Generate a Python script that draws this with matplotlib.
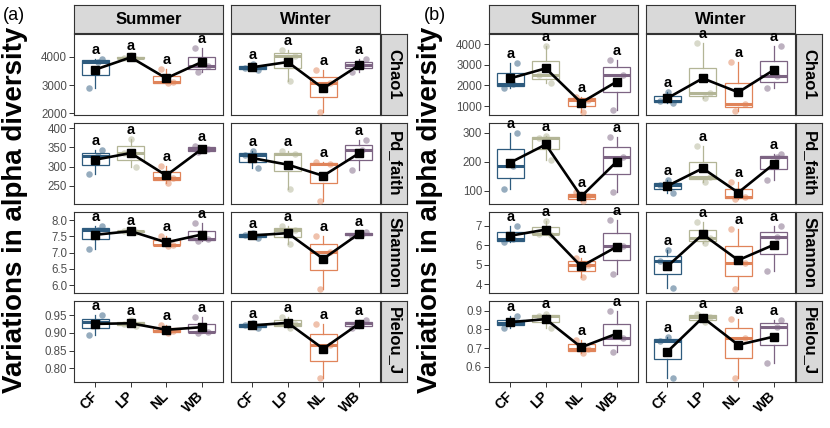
import numpy as np
import matplotlib
matplotlib.use("Agg")
import matplotlib.pyplot as plt

plt.rcParams['font.family'] = ['Liberation Sans', 'DejaVu Sans']

# three samples per site: CF, LP, NL, WB
sites = ["CF", "LP", "NL", "WB"]
seasons = ["Summer", "Winter"]
metrics = ["Chao1", "Pd_faith", "Shannon", "Pielou_J"]
site_colors = ["#2E5B7E", "#B3B596", "#E0845A", "#7D6483"]

# panel (a)
a_chao1_summer = [[2900, 3830, 3920], [3930, 3970, 4060], [3060, 3100, 3560], [3450, 3690, 4320]]
a_chao1_winter = [[3520, 3620, 3760], [3150, 4050, 4260], [2040, 3080, 3520], [3480, 3700, 3930]]
a_pd_summer = [[282, 328, 344], [299, 334, 372], [258, 271, 302], [337, 345, 354]]
a_pd_winter = [[296, 330, 340], [243, 332, 340], [210, 306, 312], [290, 344, 368]]
a_shannon_summer = [[7.11, 7.71, 7.83], [7.62, 7.66, 7.70], [7.20, 7.25, 7.50], [7.35, 7.42, 7.90]]
a_shannon_winter = [[7.46, 7.53, 7.60], [7.27, 7.70, 7.83], [5.89, 7.02, 7.52], [7.52, 7.56, 7.65]]
a_pielou_summer = [[0.895, 0.930, 0.951], [0.920, 0.926, 0.935], [0.899, 0.905, 0.922], [0.900, 0.903, 0.945]]
a_pielou_winter = [[0.913, 0.921, 0.929], [0.915, 0.925, 0.945], [0.773, 0.867, 0.925], [0.913, 0.928, 0.935]]

# panel (b)
b_chao1_summer = [[1860, 2078, 3100], [2100, 2496, 3900], [730, 1300, 1460], [807, 2509, 3238]]
b_chao1_winter = [[1170, 1260, 1700], [1370, 1620, 4050], [763, 1098, 3140], [1860, 2458, 3935]]
b_pd_summer = [[105, 185, 300], [207, 282, 288], [65, 80, 95], [97, 217, 286]]
b_pd_winter = [[93, 120, 135], [131, 146, 254], [72, 78, 130], [135, 215, 225]]
b_shannon_summer = [[6.14, 6.33, 7.00], [6.55, 6.60, 7.26], [4.38, 5.00, 5.35], [4.51, 5.95, 7.30]]
b_shannon_winter = [[3.80, 5.20, 5.73], [6.10, 6.38, 7.20], [3.74, 5.11, 6.84], [4.68, 6.40, 6.98]]
b_pielou_summer = [[0.810, 0.835, 0.870], [0.810, 0.870, 0.885], [0.672, 0.695, 0.745], [0.677, 0.754, 0.900]]
b_pielou_winter = [[0.540, 0.740, 0.760], [0.840, 0.865, 0.885], [0.540, 0.755, 0.855], [0.618, 0.815, 0.850]]

a_ticks = [[2000, 3000, 4000], [250, 300, 350, 400], [6.0, 6.5, 7.0, 7.5, 8.0], [0.80, 0.85, 0.90, 0.95]]
a_ticklabels = [["2000", "3000", "4000"], ["250", "300", "350", "400"],
                ["6.0", "6.5", "7.0", "7.5", "8.0"], ["0.80", "0.85", "0.90", "0.95"]]
b_ticks = [[1000, 2000, 3000, 4000], [100, 200, 300], [4, 5, 6, 7], [0.6, 0.7, 0.8, 0.9]]
b_ticklabels = [["1000", "2000", "3000", "4000"], ["100", "200", "300"],
                ["4", "5", "6", "7"], ["0.6", "0.7", "0.8", "0.9"]]

a_ylims = [(1930, 4820), (203, 413), (5.76, 8.25), (0.761, 0.99)]
b_ylims = [(563, 4500), (54, 333), (3.54, 7.71), (0.518, 0.952)]

data = {
    "a": [(a_chao1_summer, a_chao1_winter), (a_pd_summer, a_pd_winter),
          (a_shannon_summer, a_shannon_winter), (a_pielou_summer, a_pielou_winter)],
    "b": [(b_chao1_summer, b_chao1_winter), (b_pd_summer, b_pd_winter),
          (b_shannon_summer, b_shannon_winter), (b_pielou_summer, b_pielou_winter)],
}
ticks = {"a": (a_ticks, a_ticklabels, a_ylims), "b": (b_ticks, b_ticklabels, b_ylims)}

W, H = 830, 428
fig = plt.figure(figsize=(W / 100, H / 100), dpi=100)


def rect(x0, y0, x1, y1):
    return [x0 / W, 1 - y1 / H, (x1 - x0) / W, (y1 - y0) / H]


def strip(x0, y0, x1, y1, label, rot=0):
    s = fig.add_axes(rect(x0, y0, x1, y1))
    s.set_facecolor("#D9D9D9")
    s.set_xticks([])
    s.set_yticks([])
    for sp in s.spines.values():
        sp.set_color("#333333")
        sp.set_linewidth(0.8)
    s.text(0.5, 0.5, label, transform=s.transAxes, ha="center", va="center",
           rotation=rot, fontsize=12, fontweight="bold")


jitter = np.array([[-0.18, 0.08, 0.2], [0.15, -0.2, 0.02], [0.05, 0.2, -0.15], [-0.1, 0.18, -0.2]])
pos = np.arange(1, 5)

layout = {"a": 0, "b": 415}
rows = [(34, 115), (123, 204), (212, 293), (301, 382)]
cols = [(74, 223), (231, 380)]

for p, dx in layout.items():
    tk, tl, yl = ticks[p]
    for c, (cx0, cx1) in enumerate(cols):
        strip(cx0 + dx, 5, cx1 + dx, 33, seasons[c])
    for r, (ry0, ry1) in enumerate(rows):
        strip(381 + dx, ry0, 407 + dx, ry1, metrics[r], rot=-90)
        for c, (cx0, cx1) in enumerate(cols):
            ax = fig.add_axes(rect(cx0 + dx, ry0, cx1 + dx, ry1))
            groups = data[p][r][c]
            means = []
            for i, vals in enumerate(groups):
                col = site_colors[i]
                ax.boxplot([vals], positions=[pos[i]], widths=0.75, showfliers=False, showcaps=False,
                           patch_artist=True,
                           boxprops=dict(facecolor="none", edgecolor=col, linewidth=0.9),
                           medianprops=dict(color=col, linewidth=2.2),
                           whiskerprops=dict(color=col, linewidth=0.9))
                ax.scatter(pos[i] + jitter[(i + c) % 4], vals, s=22, color=col, alpha=0.5,
                           linewidths=0, zorder=3)
                means.append(np.mean(vals))
                ax.annotate("a", (pos[i], max(vals)), xytext=(0, 6.5), textcoords="offset points",
                            ha="center", va="center", fontsize=10.5, fontweight="bold",
                            annotation_clip=False, zorder=6)
            ax.plot(pos, means, color="black", lw=1.9, zorder=4)
            ax.plot(pos, means, "s", color="black", ms=5.2, zorder=5)
            ax.set_xlim(0.4, 4.6)
            ax.set_ylim(*yl[r])
            for sp in ax.spines.values():
                sp.set_color("#333333")
                sp.set_linewidth(0.8)
            ax.tick_params(length=3.5, width=0.7, color="#333333", labelsize=8.3,
                           labelcolor="#4D4D4D", pad=1.5)
            if c == 0:
                ax.set_yticks(tk[r])
                ax.set_yticklabels(tl[r])
            else:
                ax.set_yticks([])
            if r == 3:
                ax.set_xticks(pos)
                ax.set_xticklabels(sites, rotation=45, ha="right", va="center",
                                   rotation_mode="anchor", fontsize=10, fontweight="bold",
                                   color="black")
                ax.tick_params(axis="x", pad=5)
            else:
                ax.set_xticks([])

    fig.text((15 + dx) / W, 1 - 210 / H, "Variations in alpha diversity", rotation=90,
             ha="center", va="center", fontsize=20, fontweight="bold")
    fig.text((3 + dx * 1.015) / W, 1 - 16 / H, "(%s)" % p, fontsize=13, ha="left", va="center")

fig.savefig("out.png", dpi=100)
